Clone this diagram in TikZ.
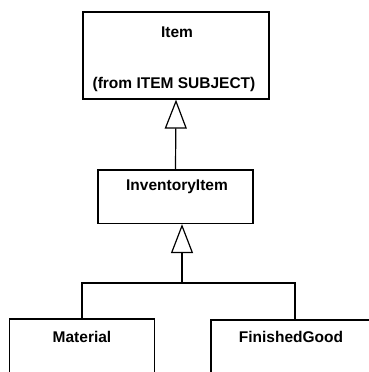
\documentclass[tikz,border=0pt]{standalone}
\usepackage{fontspec}
\setmainfont{Liberation Sans}
\usetikzlibrary{arrows.meta}
\tikzset{
  umlbox/.style={draw, line width=1.2pt, inner sep=0pt},
  umltxt/.style={font=\bfseries\fontsize{15.5}{18}\selectfont, inner sep=0pt},
  inherit/.style={line width=1.2pt, -{Triangle[open,width=22pt,length=29pt,line width=1.2pt]}},
  umlline/.style={line width=1.2pt}
}
\newcommand{\umlclass}[5]{\node[umlbox, minimum width=#3, minimum height=#4] (#1) at (#2) {};}

\begin{document}
\begin{tikzpicture}[x=1pt,y=-1pt]
        \useasboundingbox (0,0) rectangle (369,372);
        \clip (0,0) rectangle (369,372);
        % classes
        \umlclass{item}{176,55.5}{186pt}{87pt}{}
        \node[umltxt] (itemname) at (177,32) {Item};
        \node[umltxt] (itemfrom) at (174,84) {(from ITEM SUBJECT)};
        \umlclass{inv}{175.5,196.75}{155pt}{53.5pt}{}
        \node[umltxt] (invname) at (177,187) {InventoryItem};
        \umlclass{mat}{82,359}{145pt}{80pt}{}
        \node[umltxt] (matname) at (82,337) {Material};
        \umlclass{fin}{295,360}{168pt}{80pt}{}
        \node[umltxt] (finname) at (291,337) {FinishedGood};
        % generalisations
        \draw[inherit] (inv.north) -- (item.south);
        \coordinate (bar) at (182,283);
        \draw[inherit] (bar) -- (bar |- inv.south);
        \draw[umlline] (mat.north) |- (bar) -| (fin.north);
    \end{tikzpicture}
\end{document}
